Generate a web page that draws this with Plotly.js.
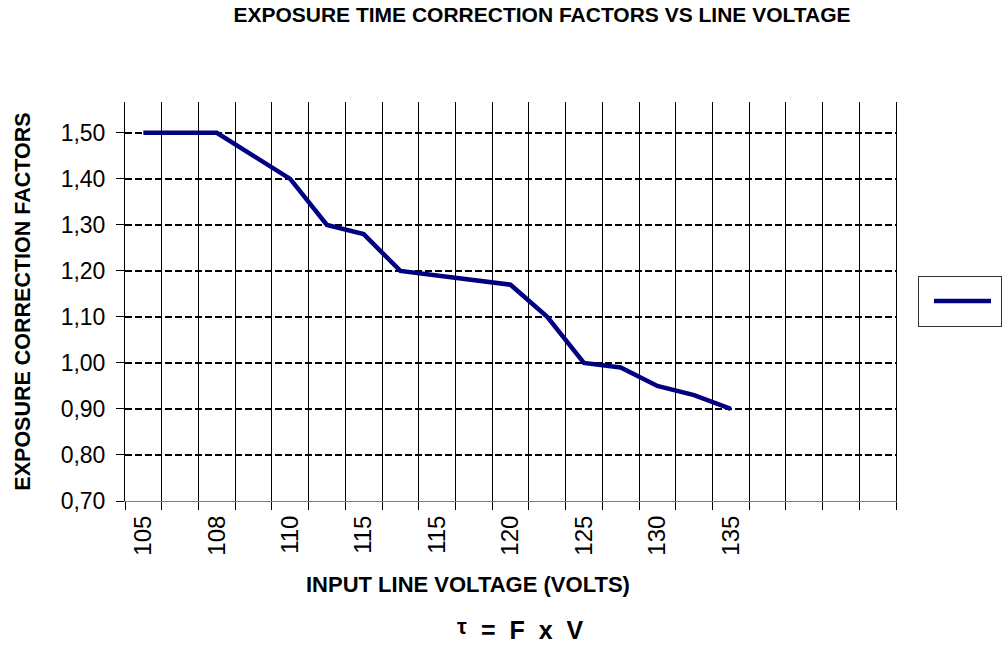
<!DOCTYPE html>
<html><head><meta charset="utf-8">
<script src="https://cdn.plot.ly/plotly-3.0.1.min.js"></script>
<style>html,body{margin:0;padding:0;background:#fff}#chart{width:1008px;height:647px}</style>
</head><body><div id="chart"></div>
<script>
// ---- data ----
const categories = ['105','','108','','110','','115','','115','','120','','125','','130','','135','','','',''];
const factors = [1.50,1.50,1.50,1.45,1.40,1.30,1.28,1.20,1.19,1.18,1.17,1.10,1.00,0.99,0.95,0.93,0.90];
const yTicks = [0.70,0.80,0.90,1.00,1.10,1.20,1.30,1.40,1.50];
const titleText = 'EXPOSURE TIME CORRECTION FACTORS VS LINE VOLTAGE';
const xTitle = 'INPUT LINE VOLTAGE (VOLTS)';
const yTitle = 'EXPOSURE CORRECTION FACTORS';
const formulaSymbol = 'τ';
const formulaRest = '=\u00a0\u00a0F\u00a0\u00a0x\u00a0\u00a0V';

// ---- derived ----
const xIdx = factors.map((_, i) => i);
const labelIdx = categories.map((c, i) => c !== '' ? i : null).filter(i => i !== null);
const labelText = labelIdx.map(i => categories[i]);
const boundaries = categories.map((_, i) => i - 0.5).concat([categories.length - 0.5]);

const L = 125, R = 112, T = 102, B = 146, FW = 1008, FH = 647;
const PW = FW - L - R, PH = FH - T - B;
const px = x => (x - L) / PW;
const py = y => (FH - B - y) / PH;
const FONT = 'Liberation Sans, Arial, sans-serif';

const trace = {
  x: xIdx, y: factors, type: 'scatter', mode: 'lines', name: '',
  line: {color: '#000080', width: 4.5},
  showlegend: true
};

const layout = {
  width: FW, height: FH,
  margin: {l: L, r: R, t: T, b: B, pad: 0, autoexpand: false},
  paper_bgcolor: '#fff', plot_bgcolor: '#fff',
  separators: ', ',
  font: {family: FONT, color: '#000'},
  title: {text: '<b>' + titleText + '</b>', font: {size: 21, family: FONT, color: '#000'},
          x: 542 / FW, xref: 'container', xanchor: 'center', y: 1 - 15 / FH, yref: 'container', yanchor: 'middle'},
  xaxis: {
    range: [-0.5, categories.length - 0.5],
    tickmode: 'array', tickvals: labelIdx, ticktext: labelText,
    tickangle: -90, tickfont: {size: 24, family: FONT, color: '#000'},
    ticks: '', showgrid: false, zeroline: false, ticklabelstandoff: 4,
    showline: true, linecolor: '#808080', linewidth: 1,
    minor: {tickmode: 'array', tickvals: boundaries, showgrid: true, gridcolor: '#000', gridwidth: 1,
            ticks: 'outside', ticklen: 8, tickcolor: '#000', tickwidth: 1},
    automargin: false, fixedrange: true
  },
  yaxis: {
    range: [0.70, 1.567],
    tickmode: 'array', tickvals: yTicks, tickformat: '.2f',
    tickfont: {size: 23, family: FONT, color: '#000'}, ticklabelstandoff: 6,
    ticks: 'outside', ticklen: 8, tickcolor: '#000', tickwidth: 1,
    showgrid: true, gridcolor: '#000', gridwidth: 2, griddash: '7px,3px',
    showline: true, mirror: true, linecolor: '#000', linewidth: 1, zeroline: false,
    title: {text: '<b>' + yTitle + '</b>', font: {size: 21.5, family: FONT, color: '#000'}, standoff: 24},
    automargin: false, fixedrange: true
  },
  showlegend: true,
  legend: {
    xref: 'container', yref: 'container',
    x: 918 / FW, y: 1 - 276 / FH, xanchor: 'left', yanchor: 'top',
    bordercolor: '#333', borderwidth: 1, bgcolor: '#fff',
    font: {size: 27, family: FONT}, itemwidth: 57, indentation: 10
  },
  annotations: [
    {text: '<b>' + xTitle + '</b>', xref: 'paper', yref: 'paper', x: px(468), y: py(584),
     xanchor: 'center', yanchor: 'middle', showarrow: false, font: {size: 22, family: FONT, color: '#000'}},
    {text: '<b>' + formulaSymbol + '</b>', xref: 'paper', yref: 'paper', x: px(462), y: py(626),
     xanchor: 'center', yanchor: 'middle', showarrow: false, font: {size: 22, family: FONT, color: '#000'}},
    {text: '<b>' + formulaRest + '</b>', xref: 'paper', yref: 'paper', x: px(532), y: py(630),
     xanchor: 'center', yanchor: 'middle', showarrow: false, font: {size: 25, family: FONT, color: '#000'}}
  ]
};

Plotly.newPlot('chart', [trace], layout, {displayModeBar: false, staticPlot: true});
</script></body></html>
